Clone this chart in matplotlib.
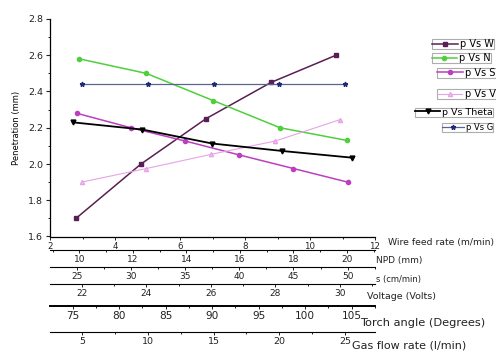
import numpy as np
import matplotlib
matplotlib.use("Agg")
import matplotlib.pyplot as plt
from matplotlib.ticker import MultipleLocator
from matplotlib.lines import Line2D

plt.rcParams.update({
    "font.family": "DejaVu Sans",
    "axes.linewidth": 0.9,
})

# ---------- data ----------
wire_feed = [2.8, 4.8, 6.8, 8.8, 10.8]
pen_w = [1.70, 2.00, 2.25, 2.45, 2.60]

npd = [10, 12.5, 15, 17.5, 20]
pen_n = [2.58, 2.50, 2.35, 2.20, 2.13]

speed = [25, 30, 35, 40, 45, 50]
pen_s = [2.28, 2.20, 2.127, 2.05, 1.975, 1.90]

voltage = [22, 24, 26, 28, 30]
pen_v = [1.90, 1.975, 2.053, 2.127, 2.245]

torch = [75, 82.5, 90, 97.5, 105]
pen_theta = [2.23, 2.19, 2.113, 2.072, 2.035]

gas = [5, 10, 15, 20, 25]
pen_g = [2.44, 2.44, 2.44, 2.44, 2.44]

W, H = 496, 353
fig = plt.figure(figsize=(W / 100, H / 100), dpi=100)

L, R, B, T = 50, 375, 236.5, 19
ax = fig.add_axes([L / W, 1 - B / H, (R - L) / W, (B - T) / H])
ax.patch.set_alpha(0)
for s in ["top", "right"]:
    ax.spines[s].set_visible(False)
ax.set_xlim(2, 12)
ax.set_ylim(1.6, 2.8)
ax.xaxis.set_major_locator(MultipleLocator(2))
ax.xaxis.set_minor_locator(MultipleLocator(1))
ax.yaxis.set_major_locator(MultipleLocator(0.2))
ax.yaxis.set_minor_locator(MultipleLocator(0.1))
ax.yaxis.set_major_formatter(plt.FormatStrFormatter("%.1f"))
ax.tick_params(axis="y", labelsize=6.8, length=3, width=0.8, pad=2, colors="#222222")
ax.tick_params(axis="y", which="minor", length=1.8, width=0.6)
ax.tick_params(axis="x", labelsize=6.2, length=2.5, width=0.7, pad=1.5, colors="#222222")
ax.tick_params(axis="x", which="minor", length=1.6, width=0.6)
ax.set_ylabel("Penetration (mm)", fontsize=6, labelpad=5)

ax.plot(wire_feed, pen_w, color="#5a1f52", lw=1.1, marker="s", ms=2.8)


def extra_axis(offset, xlim, major, minor, lsize, lw=0.8):
    a = ax.twiny()
    a.patch.set_alpha(0)
    a.xaxis.set_ticks_position("bottom")
    a.spines["bottom"].set_position(("outward", offset))
    a.spines["bottom"].set_linewidth(lw)
    for s in ["top", "right", "left"]:
        a.spines[s].set_visible(False)
    a.set_xlim(*xlim)
    a.xaxis.set_major_locator(MultipleLocator(major))
    a.xaxis.set_minor_locator(MultipleLocator(minor))
    a.tick_params(axis="x", labelsize=lsize, length=2.5, width=0.7, pad=1, colors="#222222")
    a.tick_params(axis="x", which="minor", length=1.6, width=0.6)
    return a


px = 0.72
ax_n = extra_axis(13.5 * px, (8.9, 21.05), 2, 1, 6.5)
ax_s = extra_axis(30.2 * px, (22.54, 52.52), 5, 2.5, 6.5)
ax_v = extra_axis(47.5 * px, (21.02, 31.08), 2, 1, 6.5)
ax_t = extra_axis(69.5 * px, (72.56, 107.5), 5, 2.5, 7.6, lw=1.4)
ax_g = extra_axis(95.8 * px, (2.54, 27.3), 5, 2.5, 6.8)

ax_n.plot(npd, pen_n, color="#4fcf3c", lw=1.1, marker="o", ms=3)
ax_s.plot(speed, pen_s, color="#bb3fbf", lw=1.1, marker="o", ms=3)
ax_v.plot(voltage, pen_v, color="#e6a4e4", lw=0.8, marker="^", ms=3, mfc="#f0c8ee")
ax_t.plot(torch, pen_theta, color="black", lw=1.3, marker="v", ms=3.5)
ax_g.plot(gas, pen_g, color="#5a6690", lw=0.9, marker="*", ms=3.5, mfc="#1e2a78", mec="#1e2a78")

# axis titles on the right
titles = [
    ("Wire feed rate (m/min)", 388, 242, 6.7),
    ("NPD (mm)", 376, 261, 6.5),
    ("s (cm/min)", 376, 279.5, 6.0),
    ("Voltage (Volts)", 367, 296.5, 6.8),
    ("Torch angle (Degrees)", 360, 323, 8.2),
    ("Gas flow rate (l/min)", 352, 345, 8.0),
]
for txt, x, y, fs in titles:
    fig.text(x / W, 1 - y / H, txt, fontsize=fs, ha="left", va="center", color="#222222")

# separate boxed legends, like the original
legends = [
    (Line2D([], [], color="#5a1f52", lw=1.1, marker="s", ms=2.8), "p Vs W", 494, 44, 7.0),
    (Line2D([], [], color="#4fcf3c", lw=1.1, marker="o", ms=3), "p Vs N", 491, 58.3, 7.0),
    (Line2D([], [], color="#bb3fbf", lw=1.1, marker="o", ms=3), "p Vs S", 495.5, 72.8, 7.0),
    (Line2D([], [], color="#e6a4e4", lw=0.8, marker="^", ms=3, mfc="#f0c8ee"), "p Vs V", 495.5, 94.2, 7.0),
    (Line2D([], [], color="black", lw=1.3, marker="v", ms=3.5), "p Vs Theta", 493, 112, 6.8),
    (Line2D([], [], color="#5a6690", lw=0.9, marker="*", ms=3.5, mfc="#1e2a78", mec="#1e2a78"),
     "p Vs G", 493, 127, 6.0),
]
for h, lab, x, y, fs in legends:
    lg = fig.legend([h], [lab], loc="center right", bbox_to_anchor=(x / W, 1 - y / H),
                    bbox_transform=fig.transFigure, fontsize=fs, frameon=True,
                    fancybox=False, borderpad=0.0, handlelength=2.6,
                    handletextpad=0.25, borderaxespad=0)
    lg.get_frame().set_edgecolor("#999999")
    lg.get_frame().set_linewidth(0.8)

fig.savefig("out.png", dpi=100)
